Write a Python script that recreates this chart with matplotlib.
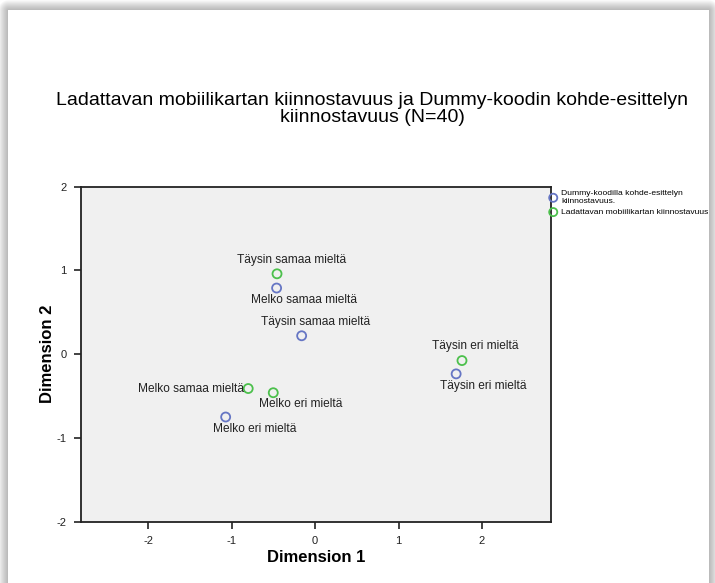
import numpy as np
import matplotlib
matplotlib.use("Agg")
import matplotlib.pyplot as plt

plt.rcParams['font.family'] = ['Liberation Sans', 'DejaVu Sans']
plt.rcParams['axes.unicode_minus'] = False

# category labels and coordinates
dummy_labels = ['Melko samaa mieltä', 'Täysin samaa mieltä', 'Täysin eri mieltä', 'Melko eri mieltä']
dummy_x = [-0.46, -0.16, 1.69, -1.07]
dummy_y = [0.79, 0.22, -0.235, -0.75]

lataus_labels = ['Täysin samaa mieltä', 'Täysin eri mieltä', 'Melko samaa mieltä', 'Melko eri mieltä']
lataus_x = [-0.455, 1.76, -0.80, -0.50]
lataus_y = [0.96, -0.076, -0.41, -0.46]

series_names = ['Dummy-koodilla kohde-esittelyn\nkiinnostavuus.',
                'Ladattavan mobiilikartan kiinnostavuus']
title = ('Ladattavan mobiilikartan kiinnostavuus ja Dummy-koodin kohde-esittelyn\n'
         'kiinnostavuus (N=40)')

# label offsets (pixels) and alignment, per point
dummy_offsets = [(27.5, -12, 'center'), (13.7, 13.3, 'center'),
                 (26.7, -11.7, 'center'), (29, -12, 'center')]
lataus_offsets = [(14.7, 13.3, 'center'), (13.5, 14.7, 'center'),
                  (-4.7, -0.7, 'right'), (27.8, -11.6, 'center')]

W, H = 715, 583
fig = plt.figure(figsize=(W / 100, H / 100), dpi=100)

# card shadow behind everything
bg = fig.add_axes([0, 0, 1, 1], zorder=-10)
yy, xx = np.mgrid[0:H, 0:W]
cx0, cy0, cx1 = 8, 10, 708
dx = np.maximum(np.maximum(cx0 - xx, xx - cx1), 0)
dy = np.maximum(cy0 - yy, 0)
d = np.hypot(dx, dy)
shade = np.where(d > 0, 0.72 + 0.26 * (d / 10.0) ** 1.2, 1.0)
shade = np.clip(shade, 0, 1)
bg.imshow(np.dstack([shade] * 3), extent=(0, W, H, 0), aspect='auto')
bg.set_xlim(0, W)
bg.set_ylim(H, 0)
bg.axis('off')

ax = fig.add_axes([80.7 / W, 1 - 521.7 / H, (551 - 80.7) / W, (521.7 - 186.7) / H])
ax.set_facecolor('#f0f0f0')

blue = '#6676c4'
green = '#4cc04c'
ax.scatter(dummy_x, dummy_y, s=42, facecolors='none', edgecolors=blue,
           linewidths=1.3, label=series_names[0], zorder=3)
ax.scatter(lataus_x, lataus_y, s=42, facecolors='none', edgecolors=green,
           linewidths=1.3, label=series_names[1], zorder=3)

for lab, x, y, (ox, oy, ha) in zip(dummy_labels, dummy_x, dummy_y, dummy_offsets):
    ax.annotate(lab, (x, y), xytext=(ox, oy), textcoords='offset pixels',
                ha=ha, va='center', fontsize=8.6, color='#222222')
for lab, x, y, (ox, oy, ha) in zip(lataus_labels, lataus_x, lataus_y, lataus_offsets):
    ax.annotate(lab, (x, y), xytext=(ox, oy), textcoords='offset pixels',
                ha=ha, va='center', fontsize=8.6, color='#222222')

ax.set_xlim(-2.806, 2.826)
ax.set_ylim(-2, 2)
ax.set_xticks([-2, -1, 0, 1, 2])
ax.set_yticks([-2, -1, 0, 1, 2])
ax.tick_params(direction='out', length=5, width=1.2, labelsize=8, colors='#222222',
               top=False, right=False)
ax.tick_params(axis='y', pad=5)
ax.tick_params(axis='x', pad=5)
for sp in ax.spines.values():
    sp.set_linewidth(1.3)
    sp.set_color('#222222')

ax.set_xlabel('Dimension 1', fontsize=12, fontweight='bold', labelpad=3)
ax.set_ylabel('Dimension 2', fontsize=12, fontweight='bold', labelpad=1)

fig.text(372 / W, 1 - 109 / H, title, ha='center', va='center',
         fontsize=14, linespacing=1.0)

leg = ax.legend(loc='upper left', bbox_to_anchor=(549 / W, 1 - 190 / H),
                bbox_transform=fig.transFigure, frameon=False, fontsize=6.1,
                handletextpad=0.45, borderpad=0, borderaxespad=0,
                labelspacing=0.4, handlelength=1.0, markerscale=0.9)

fig.savefig('out.png', dpi=100)
